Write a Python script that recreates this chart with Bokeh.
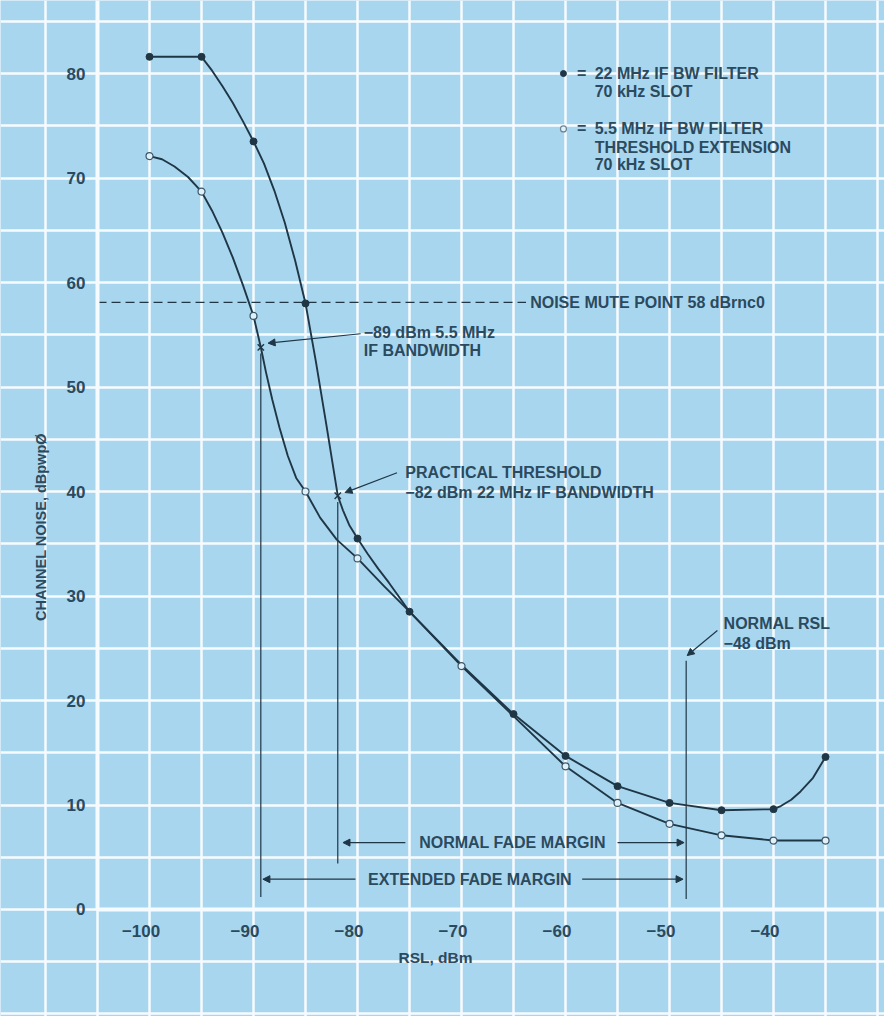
import numpy as np
from bokeh.plotting import figure
from bokeh.models import LinearAxis, FixedTicker, Grid, Arrow, NormalHead
from bokeh.core.properties import value
from bokeh.embed import file_html
from bokeh.resources import INLINE

# ---------------- data ----------------
# 22 MHz IF BW filter, 70 kHz slot (filled dots)
rsl_22 = [-100, -95, -90, -85, -80, -75, -65, -60, -55, -50, -45, -40, -35]
noise_22 = [81.6, 81.6, 73.5, 58.0, 35.5, 28.5, 18.7, 14.7, 11.8, 10.2, 9.5, 9.6, 14.6]
# 5.5 MHz IF BW filter, threshold extension, 70 kHz slot (open dots)
rsl_55 = [-100, -95, -90, -85, -80, -70, -60, -55, -50, -45, -40, -35]
noise_55 = [72.1, 68.7, 56.8, 40.0, 33.6, 23.3, 13.7, 10.2, 8.2, 7.1, 6.6, 6.6]

# drawn curves
curve22_x = [-100, -95, -94, -93, -92, -91, -90, -89, -88, -87, -86, -85, -84.5, -84,
             -83, -81.9, -81.4, -80.8, -80, -79, -78, -77, -76, -75, -70, -65, -60, -55,
             -50, -45, -40, -39.3, -38.3, -37.4, -36.2, -35]
curve22_y = [81.6, 81.6, 80.3, 78.8, 77.2, 75.4, 73.5, 71.4, 68.8, 65.75, 62.1, 58.0, 55.2,
             52.4, 46.4, 39.6, 38.2, 36.8, 35.5, 34.0, 32.6, 31.3, 29.9, 28.5, 23.4, 18.7,
             14.7, 11.8, 10.2, 9.5, 9.6, 9.9, 10.5, 11.3, 12.6, 14.6]
curve55_x = [-100, -98.8, -97.6, -96.3, -95, -94, -93, -92, -91, -90, -89.3, -88.8, -88.2,
             -87.5, -86.7, -85.9, -85, -83.6, -82.0, -80, -77.5, -75, -70, -65, -60, -55,
             -50, -45, -40, -35]
curve55_y = [72.1, 71.8, 71.1, 70.1, 68.7, 66.9, 64.8, 62.4, 59.7, 56.8, 53.8, 51.4, 48.8,
             46.1, 43.4, 41.3, 40.0, 37.5, 35.4, 33.6, 31.0, 28.5, 23.3, 18.5, 13.7, 10.2,
             8.2, 7.1, 6.6, 6.6]

# thresholds (x marks) and reference levels
thresh_rsl = [-81.9, -89.3]        # practical threshold 22 MHz, 5.5 MHz
thresh_noise = [39.6, 53.8]
normal_rsl = -48.4
noise_mute = 58.1

x_ticks = [-100, -90, -80, -70, -60, -50, -40]
y_ticks = [0, 10, 20, 30, 40, 50, 60, 70, 80]

# ---------------- styling ----------------
BG = "#a9d6ef"
GRID = "#f6fbff"
INK = "#1f3645"
TXT = "#2b4a5e"
FONT = value("Liberation Sans")

p = figure(width=884, height=1016, x_range=(-114.33, -29.33), y_range=(-10.24, 86.99),
           output_backend="svg", toolbar_location=None, min_border=0,
           x_axis_location=None, y_axis_location=None)
p.background_fill_color = BG
p.border_fill_color = BG
p.outline_line_color = None

xg = Grid(dimension=0, ticker=FixedTicker(ticks=list(np.arange(-115, -25, 5))),
          grid_line_color=GRID, grid_line_width=2.5)
yg = Grid(dimension=1, ticker=FixedTicker(ticks=list(np.arange(-10, 95, 5))),
          grid_line_color=GRID, grid_line_width=2.5)
p.add_layout(xg)
p.add_layout(yg)

xax = LinearAxis(fixed_location=0, ticker=FixedTicker(ticks=x_ticks), bounds=(-105, -29))
xax.major_label_overrides = {t: str(t).replace("-", "\u2212") + "\u2003" for t in x_ticks}
yax = LinearAxis(fixed_location=-105, ticker=FixedTicker(ticks=y_ticks), bounds=(0, 87))
for ax, so in ((xax, 7), (yax, 6)):
    ax.axis_line_color = GRID
    ax.axis_line_width = 4
    ax.major_tick_line_color = None
    ax.minor_tick_line_color = None
    ax.major_label_text_font = "Liberation Sans"
    ax.major_label_text_font_style = "bold"
    ax.major_label_text_font_size = "17px"
    ax.major_label_text_color = TXT
    ax.major_label_standoff = so
p.add_layout(xax, "below")
p.add_layout(yax, "left")

# noise mute dashed line
p.line(x=[-105, -63.8], y=[noise_mute, noise_mute], line_color=INK, line_width=1.2,
       line_dash="9 5")

# curves
p.line(x=curve22_x, y=curve22_y, line_color=INK, line_width=1.9, line_join="round")
p.line(x=curve55_x, y=curve55_y, line_color=INK, line_width=1.9, line_join="round")

# vertical reference lines
vl_x = [thresh_rsl[1], thresh_rsl[0], normal_rsl]
vl_top = [thresh_noise[1] - 0.6, thresh_noise[0] - 0.6, 23.8]
vl_bot = [1.2, 4.4, 1.0]
p.segment(x0=vl_x, y0=vl_top, x1=vl_x, y1=vl_bot, line_color=INK, line_width=1.2)

# markers
p.scatter(x=rsl_22, y=noise_22, size=7, marker="circle", fill_color=INK, line_color=INK)
p.scatter(x=rsl_55, y=noise_55, size=7, marker="circle", fill_color="#dff1fb",
          line_color="#3d5666", line_width=1.2)
p.scatter(x=thresh_rsl, y=thresh_noise, size=9, marker="x", line_color=INK, line_width=1.4)

def arrow(x0, y0, x1, y1):
    p.add_layout(Arrow(end=NormalHead(size=7, fill_color=INK, line_color=INK),
                       x_start=x0, y_start=y0, x_end=x1, y_end=y1,
                       line_color=INK, line_width=1.2))

def txt(x, y, s, size="16px", align="left", angle=0.0):
    p.text(x=x, y=y, text=s, text_font=FONT, text_font_size=size, text_color=TXT,
           text_font_style="bold", text_baseline="middle", text_align=align, angle=angle)

# legend
p.scatter(x=[-60.2], y=[80.0], size=6, marker="circle", fill_color=INK, line_color=INK)
p.scatter(x=[-60.2], y=[74.7], size=6, marker="circle", fill_color="#dff1fb",
          line_color="#6c8695", line_width=1.2)
txt([-58.9, -58.9], [80.0, 74.7], ["=", "="])
txt([-57.2] * 5, [80.0, 78.3, 74.7, 72.9, 71.3],
    ["22 MHz IF BW FILTER", "70 kHz SLOT", "5.5 MHz IF BW FILTER",
     "THRESHOLD EXTENSION", "70 kHz SLOT"])

# noise mute label
txt([-63.4], [noise_mute], ["NOISE MUTE POINT 58 dBrnc0"])

# -89 dBm annotation
txt([-79.4, -79.4], [55.2, 53.5], ["\u221289 dBm 5.5 MHz", "IF BANDWIDTH"])
arrow(-79.7, 55.1, thresh_rsl[1] + 0.7, thresh_noise[1] + 0.4)

# practical threshold annotation
txt([-75.4, -75.4], [41.8, 39.9], ["PRACTICAL THRESHOLD", "\u221282 dBm 22 MHz IF BANDWIDTH"])
arrow(-76.2, 41.8, thresh_rsl[0] + 0.7, thresh_noise[0] + 0.3)

# normal RSL annotation
txt([-44.8, -44.8], [27.4, 25.5], ["NORMAL RSL", "\u221248 dBm"])
arrow(-45.4, 26.7, normal_rsl + 0.1, 24.3)

# fade margins
txt([-65.1], [6.4], ["NORMAL FADE MARGIN"], align="center")
arrow(-75.4, 6.4, thresh_rsl[0] + 0.5, 6.4)
arrow(-55.0, 6.4, normal_rsl - 0.2, 6.4)
txt([-69.2], [2.9], ["EXTENDED FADE MARGIN"], align="center")
arrow(-80.2, 2.9, thresh_rsl[1] + 0.2, 2.9)
arrow(-58.4, 2.9, normal_rsl - 0.3, 2.9)

# axis titles
txt([-72.5], [-4.6], ["RSL, dBm"], size="15.5px", align="center")
txt([-110.4], [36.6], ["CHANNEL NOISE, dBpwp\u00d8"], size="14.5px", align="center",
    angle=np.pi / 2)

open("out.html", "w").write(file_html(p, INLINE))
